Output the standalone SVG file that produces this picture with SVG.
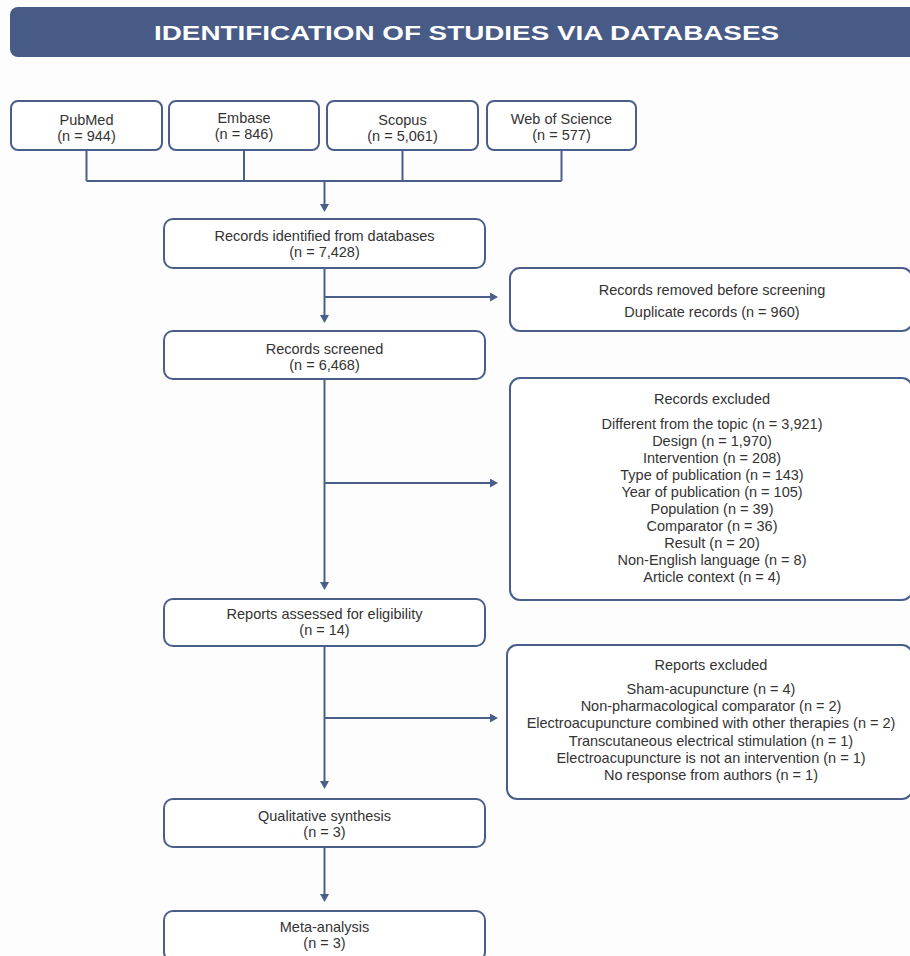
<svg xmlns="http://www.w3.org/2000/svg" width="910" height="956" viewBox="0 0 910 956">
  <defs>
    <marker id="arrow" viewBox="0 0 8 9" markerWidth="8" markerHeight="9" refX="1" refY="4.5" orient="auto" markerUnits="userSpaceOnUse">
      <path d="M0,0 L8,4.5 L0,9 z" fill="#4a5e8b"/>
    </marker>
  </defs>
  <style>
    .box { fill: #ffffff; stroke: #4a5e8b; stroke-width: 2; }
    .t { font-family: "Liberation Sans", Arial, sans-serif; font-size: 14.5px; fill: #333333; text-anchor: middle; }
    .title { font-family: "Liberation Sans", Arial, sans-serif; font-size: 21px; font-weight: bold; fill: #ffffff; }
    .line { fill: none; stroke: #4a5e8b; stroke-width: 2; }
    .arr { fill: none; stroke: #4a5e8b; stroke-width: 2; marker-end: url(#arrow); }
  </style>
  <rect x="0" y="0" width="910" height="956" fill="#fdfdfd"/>

  <g id="header">
    <rect x="10" y="7" width="920" height="50" rx="8" fill="#475b86"/>
    <text class="title" x="154" y="39.5" textLength="625" lengthAdjust="spacingAndGlyphs">IDENTIFICATION OF STUDIES VIA DATABASES</text>
  </g>

  <g id="pubmed">
    <rect class="box" x="11" y="101" width="151" height="49" rx="7"/>
    <text class="t" x="86.5" y="124.5">PubMed</text>
    <text class="t" x="86.5" y="140.5">(n = 944)</text>
  </g>
  <g id="embase">
    <rect class="box" x="169" y="101" width="150" height="49" rx="7"/>
    <text class="t" x="244" y="122.5">Embase</text>
    <text class="t" x="244" y="138.5">(n = 846)</text>
  </g>
  <g id="scopus">
    <rect class="box" x="327" y="101" width="151" height="49" rx="7"/>
    <text class="t" x="402.5" y="125">Scopus</text>
    <text class="t" x="402.5" y="141">(n = 5,061)</text>
  </g>
  <g id="wos">
    <rect class="box" x="487" y="101" width="149" height="49" rx="7"/>
    <text class="t" x="561.5" y="124">Web of Science</text>
    <text class="t" x="561.5" y="140">(n = 577)</text>
  </g>

  <g id="identified">
    <rect class="box" x="164" y="219" width="321" height="49" rx="9"/>
    <text class="t" x="324.5" y="240.5">Records identified from databases</text>
    <text class="t" x="324.5" y="256.5">(n = 7,428)</text>
  </g>
  <g id="removed">
    <rect class="box" x="510" y="268" width="402" height="63" rx="10"/>
    <text class="t" x="712" y="295">Records removed before screening</text>
    <text class="t" x="712" y="316.5">Duplicate records (n = 960)</text>
  </g>
  <g id="screened">
    <rect class="box" x="164" y="331" width="321" height="48" rx="9"/>
    <text class="t" x="324.5" y="354">Records screened</text>
    <text class="t" x="324.5" y="370">(n = 6,468)</text>
  </g>
  <g id="records-excluded">
    <rect class="box" x="510" y="378" width="402" height="222" rx="10"/>
    <text class="t" x="712" y="403.5">Records excluded</text>
    <text class="t" x="712" y="428.5">Different from the topic (n = 3,921)</text>
    <text class="t" x="712" y="445.6">Design (n = 1,970)</text>
    <text class="t" x="712" y="462.7">Intervention (n = 208)</text>
    <text class="t" x="712" y="479.8">Type of publication (n = 143)</text>
    <text class="t" x="712" y="496.6">Year of publication (n = 105)</text>
    <text class="t" x="712" y="513.5">Population (n = 39)</text>
    <text class="t" x="712" y="530.6">Comparator (n = 36)</text>
    <text class="t" x="712" y="547.5">Result (n = 20)</text>
    <text class="t" x="712" y="564.8">Non-English language (n = 8)</text>
    <text class="t" x="712" y="582">Article context (n = 4)</text>
  </g>
  <g id="assessed">
    <rect class="box" x="164" y="599" width="321" height="47" rx="9"/>
    <text class="t" x="324.5" y="619">Reports assessed for eligibility</text>
    <text class="t" x="324.5" y="635">(n = 14)</text>
  </g>
  <g id="reports-excluded">
    <rect class="box" x="507" y="645" width="405" height="154" rx="10"/>
    <text class="t" x="711" y="670">Reports excluded</text>
    <text class="t" x="711" y="694">Sham-acupuncture (n = 4)</text>
    <text class="t" x="711" y="711.2">Non-pharmacological comparator (n = 2)</text>
    <text class="t" x="711" y="728.4">Electroacupuncture combined with other therapies (n = 2)</text>
    <text class="t" x="711" y="745.6">Transcutaneous electrical stimulation (n = 1)</text>
    <text class="t" x="711" y="762.8">Electroacupuncture is not an intervention (n = 1)</text>
    <text class="t" x="711" y="780">No response from authors (n = 1)</text>
  </g>
  <g id="qualitative">
    <rect class="box" x="164" y="799" width="321" height="48" rx="9"/>
    <text class="t" x="324.5" y="820.5">Qualitative synthesis</text>
    <text class="t" x="324.5" y="836.5">(n = 3)</text>
  </g>
  <g id="meta">
    <rect class="box" x="164" y="911" width="321" height="50" rx="9"/>
    <text class="t" x="324.5" y="931.5">Meta-analysis</text>
    <text class="t" x="324.5" y="947.5">(n = 3)</text>
  </g>

  <g id="connectors">
    <path class="line" d="M86.5,150 V181 M244,150 V181 M402.5,150 V181 M561.5,150 V181 M86.5,181 H561.5"/>
    <path class="arr" d="M324.5,181 V205"/>
    <path class="arr" d="M324.5,268 V316"/>
    <path class="arr" d="M324.5,297 H491"/>
    <path class="arr" d="M324.5,379 V583"/>
    <path class="arr" d="M324.5,483 H491"/>
    <path class="arr" d="M324.5,646 V782"/>
    <path class="arr" d="M324.5,718 H491"/>
    <path class="arr" d="M324.5,847 V895"/>
  </g>
</svg>
